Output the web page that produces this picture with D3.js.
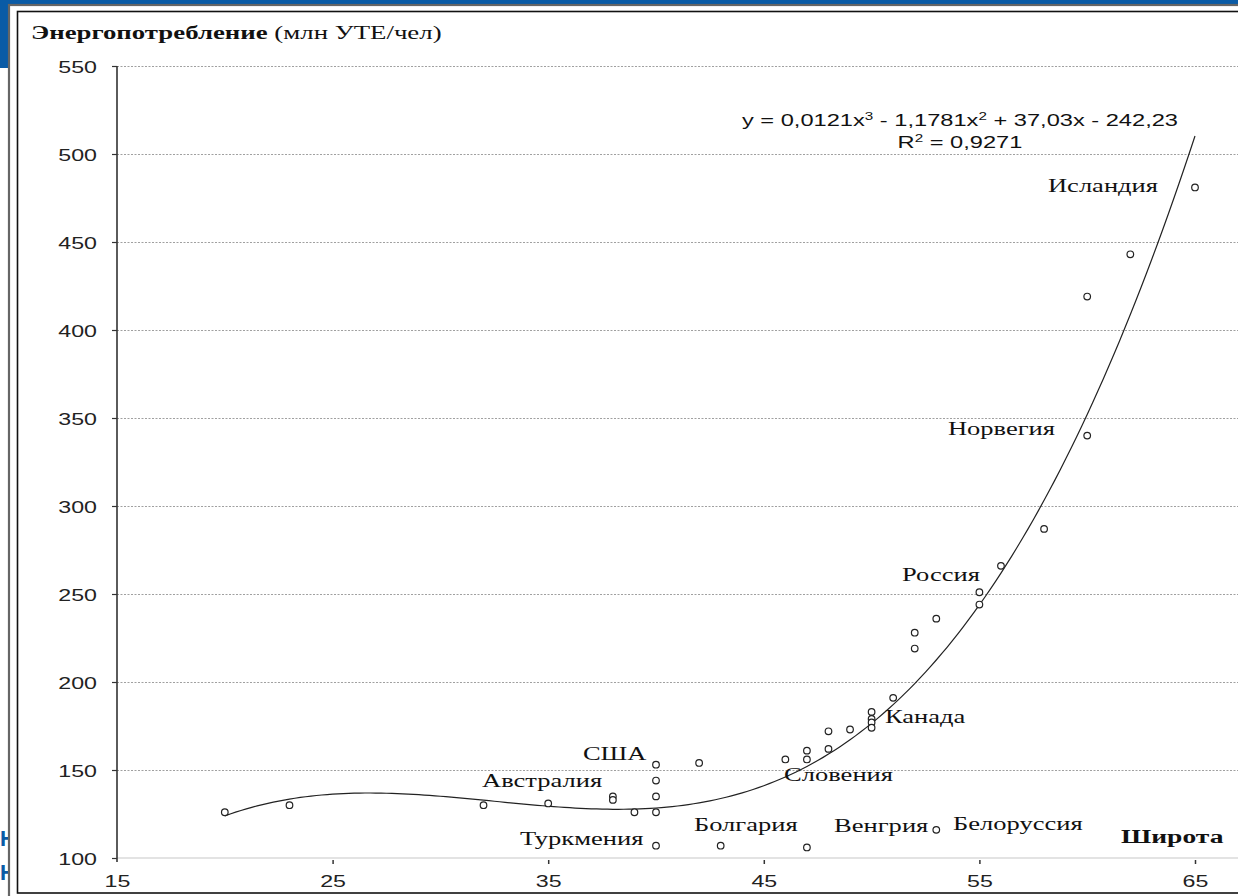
<!DOCTYPE html>
<html>
<head>
<meta charset="utf-8">
<script src="https://cdn.jsdelivr.net/npm/d3@7"></script>
<style>
  html, body { margin: 0; padding: 0; background: #fff; }
  svg { display: block; }
</style>
</head>
<body>
<script>
// Latitude (degrees) of each country in the sample
const latitude = [20, 23, 32, 35, 38, 38, 39, 40, 40, 40, 40, 40, 42, 43, 46, 47, 47, 47, 48, 48,
                  49, 50, 50, 50, 50, 51, 52, 52, 53, 53, 55, 55, 56, 58, 60, 60, 62, 65];
// Energy consumption per person
const energy = [126, 130, 130, 131, 135, 133, 126, 153, 144, 135, 126, 107, 154, 107, 156, 161, 156, 106, 162, 172,
                173, 183, 179, 177, 174, 191, 219, 228, 236, 116, 251, 244, 266, 287, 340, 419, 443, 481];

// Cubic trend: y = a3*x^3 + a2*x^2 + a1*x + a0
const trendCoef = [-242.23, 37.03, -1.1781, 0.0121];
const trendRange = [20, 65];

const xTicks = [15, 25, 35, 45, 55, 65];
const yTicks = [100, 150, 200, 250, 300, 350, 400, 450, 500, 550];

// Country names placed next to their points (anchor in latitude / energy units)
const countryNames = ["Исландия", "Норвегия", "Россия", "Канада", "Словения", "США",
                      "Австралия", "Туркмения", "Болгария", "Венгрия", "Белоруссия"];
const countryAnchor = [[58.18, 478.4], [53.54, 340.3], [51.41, 257.4], [50.62, 176.7], [45.94, 143.75],
                       [36.61, 155.7], [31.93, 140.3], [33.69, 107.4], [41.76, 115.3], [48.26, 114.8],
                       [53.78, 115.9]];

const W = 1238, H = 896;
const SX = 1.45; // horizontal stretch of all lettering

const svg = d3.select("body").append("svg").attr("width", W).attr("height", H);

// slide background: blue header band and cut-off blue letters at the left
svg.append("rect").attr("x", 0).attr("y", 0).attr("width", W).attr("height", 68).attr("fill", "#0a5ba6");
[846, 880].forEach(y => {
  svg.append("text").attr("x", 0).attr("y", y)
    .attr("font-family", "Liberation Sans, Arial, sans-serif").attr("font-weight", "bold")
    .attr("font-size", 22).attr("fill", "#0a5ba6").text("Н");
});

// picture frame
svg.append("rect").attr("x", 9).attr("y", 5).attr("width", W).attr("height", H)
  .attr("fill", "#fff").attr("stroke", "#666").attr("stroke-width", 2.2);
svg.append("rect").attr("x", 17.5).attr("y", 11.5).attr("width", W).attr("height", 881.5)
  .attr("fill", "#fff").attr("stroke", "#111").attr("stroke-width", 1.6);

const x = d3.scaleLinear().domain([15, 65]).range([117, 1195]);
const y = d3.scaleLinear().domain([100, 550]).range([858, 66]);
const plotRight = 1238;

// stretched text helper
function label(g, px, py, str, opts) {
  return g.append("text")
    .attr("transform", `translate(${px},${py}) scale(${SX},1)`)
    .attr("font-family", opts.family)
    .attr("font-size", opts.size)
    .attr("font-weight", opts.weight || "normal")
    .attr("text-anchor", opts.anchor || "start")
    .attr("fill", "#111")
    .text(str);
}

const serif = "Liberation Serif, Times New Roman, serif";
const sans = "Liberation Sans, Arial, sans-serif";

// horizontal gridlines
const grid = svg.append("g")
  .attr("transform", `translate(${x(15)},0)`)
  .call(d3.axisLeft(y).tickValues(yTicks.filter(v => v > 100)).tickSize(-(plotRight - x(15))).tickFormat(""));
grid.select(".domain").remove();
grid.selectAll("line").attr("stroke", "#a0a0a0").attr("stroke-width", 1).attr("stroke-dasharray", "2,1.5");

// x axis (baseline at 100)
const xAxis = svg.append("g")
  .attr("transform", `translate(0,${y(100)})`)
  .call(d3.axisBottom(x).tickValues(xTicks).tickSize(6).tickPadding(0));
xAxis.select(".domain").attr("d", `M${x(15)},0H${plotRight}`).attr("stroke", "#c8c8c8").attr("stroke-width", 1.2);
xAxis.selectAll(".tick line").attr("y1", 2).attr("y2", 6).attr("stroke", "#333").attr("stroke-width", 1.5)
  .filter(d => d === 15).remove();
xAxis.selectAll(".tick text")
  .attr("y", 0).attr("dy", 0)
  .attr("transform", `translate(0,29) scale(${SX},1)`)
  .attr("font-family", sans).attr("font-size", 16).attr("fill", "#222");

// y axis
const yAxis = svg.append("g")
  .attr("transform", `translate(${x(15)},0)`)
  .call(d3.axisLeft(y).tickValues(yTicks).tickSize(5).tickPadding(0));
yAxis.select(".domain").attr("d", `M0,${y(550)}V${y(100) + 4}`).attr("stroke", "#333").attr("stroke-width", 1.6);
yAxis.selectAll(".tick line").attr("stroke", "#333").attr("stroke-width", 1.2);
yAxis.selectAll(".tick text")
  .attr("x", 0).attr("dy", 0)
  .attr("transform", `translate(-20,6) scale(${SX},1)`)
  .attr("font-family", sans).attr("font-size", 16).attr("fill", "#222");

// title of the value axis
const title = svg.append("text")
  .attr("transform", `translate(31,39) scale(${SX},1)`)
  .attr("font-family", serif).attr("font-size", 18.5).attr("fill", "#111");
title.append("tspan").attr("font-weight", "bold").text("Энергопотребление");
title.append("tspan").text(" (млн УТЕ/чел)");

// cubic trend line
const poly = v => trendCoef.reduce((s, c, i) => s + c * Math.pow(v, i), 0);
const trendX = d3.range(trendRange[0], trendRange[1] + 0.001, 0.25);
svg.append("path")
  .datum(trendX)
  .attr("fill", "none").attr("stroke", "#222").attr("stroke-width", 1.2)
  .attr("d", d3.line().x(v => x(v)).y(v => y(poly(v))));

// data points
svg.append("g").selectAll("circle")
  .data(latitude.map((v, i) => [v, energy[i]]))
  .join("circle")
  .attr("cx", d => x(d[0])).attr("cy", d => y(d[1])).attr("r", 3.3)
  .attr("fill", "#fff").attr("stroke", "#222").attr("stroke-width", 1.2);

// country labels
countryNames.forEach((n, i) => {
  label(svg, x(countryAnchor[i][0]), y(countryAnchor[i][1]), n, { family: serif, size: 18.3 });
});

// latitude axis caption
label(svg, 1121, 843, "Широта", { family: serif, size: 19, weight: "bold" });

// regression equation
const eq = svg.append("text")
  .attr("transform", `translate(960,126) scale(${SX},1)`)
  .attr("text-anchor", "middle").attr("font-family", sans).attr("font-size", 16.3).attr("fill", "#111");
eq.append("tspan").text("y = 0,0121x");
eq.append("tspan").attr("dy", -6).attr("font-size", 10.5).text("3");
eq.append("tspan").attr("dy", 6).text(" - 1,1781x");
eq.append("tspan").attr("dy", -6).attr("font-size", 10.5).text("2");
eq.append("tspan").attr("dy", 6).text(" + 37,03x - 242,23");

const r2 = svg.append("text")
  .attr("transform", `translate(960,148) scale(${SX},1)`)
  .attr("text-anchor", "middle").attr("font-family", sans).attr("font-size", 16.3).attr("fill", "#111");
r2.append("tspan").text("R");
r2.append("tspan").attr("dy", -6).attr("font-size", 10.5).text("2");
r2.append("tspan").attr("dy", 6).text(" = 0,9271");
</script>
</body>
</html>
